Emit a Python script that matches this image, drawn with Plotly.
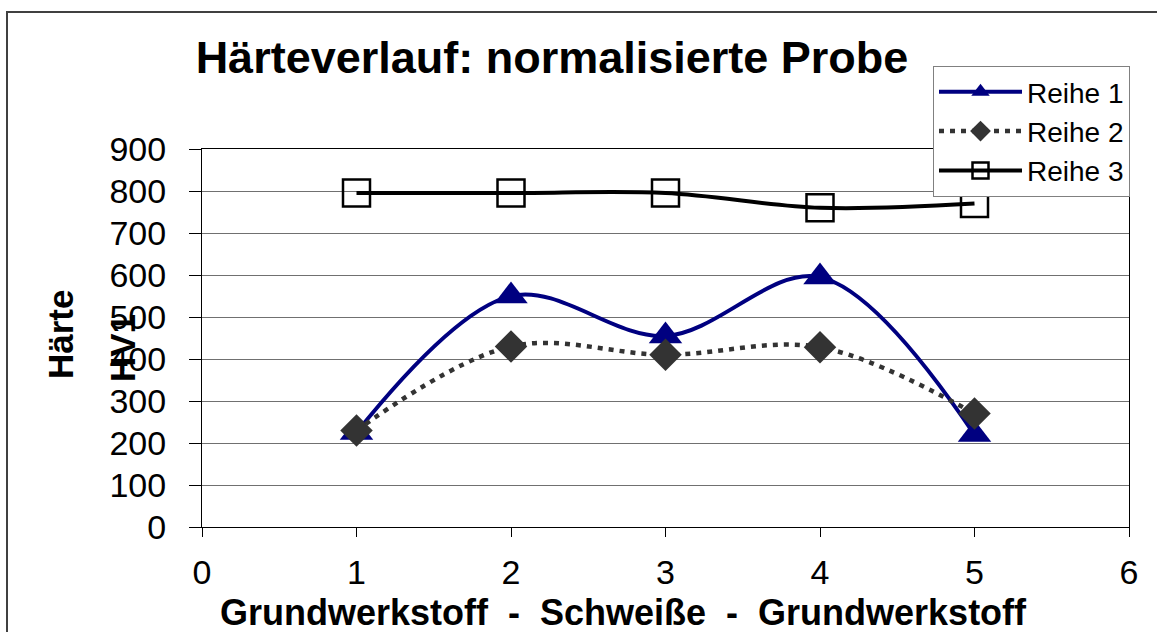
import plotly.graph_objects as go

# Messpunkte entlang der Probe
positions = [1, 2, 3, 4, 5]
reihe_1 = [225, 550, 455, 595, 220]
reihe_2 = [230, 430, 410, 428, 270]
reihe_3 = [795, 795, 795, 760, 770]

x_ticks = [0, 1, 2, 3, 4, 5, 6]
y_ticks = [0, 100, 200, 300, 400, 500, 600, 700, 800, 900]

FONT = "Liberation Sans, Arial, sans-serif"
NBSP = "\u00a0"

# Plot area in pixels (for placing free text)
L, R, T, B = 202, 28, 149, 105
W, H = 1157, 632
PW, PH = W - L - R, H - T - B


def px_x(px):
    return (px - L) / PW


def px_y(py):
    return (H - B - py) / PH


fig = go.Figure()

fig.add_trace(go.Scatter(
    x=positions, y=reihe_1, name="Reihe 1", mode="lines+markers",
    line=dict(color="#000080", width=4, shape="spline", smoothing=1),
    marker=dict(symbol="triangle-up", size=29, color="#000080"),
))
fig.add_trace(go.Scatter(
    x=positions, y=reihe_2, name="Reihe 2", mode="lines+markers",
    line=dict(color="#333333", width=4.5, shape="spline", smoothing=1, dash="5px,6px"),
    marker=dict(symbol="diamond", size=25, color="#333333"),
))
fig.add_trace(go.Scatter(
    x=positions, y=reihe_3, name="Reihe 3", mode="lines+markers",
    line=dict(color="#000000", width=4, shape="spline", smoothing=1),
    marker=dict(symbol="square-open", size=27, color="#000000", line=dict(width=2.5)),
))

axis_common = dict(
    showline=True, linecolor="#000000", linewidth=1, mirror=True,
    ticks="outside", tickcolor="#000000", tickwidth=1,
    tickfont=dict(family=FONT, size=34, color="#000000"),
    zeroline=False,
)

fig.update_layout(
    width=W, height=H,
    margin=dict(l=L, r=R, t=T, b=B),
    paper_bgcolor="#ffffff", plot_bgcolor="#ffffff",
    font=dict(family=FONT, color="#000000"),
    title=dict(
        text="<b>Härteverlauf: normalisierte Probe</b>",
        font=dict(family=FONT, size=45, color="#000000"),
        x=552 / W, xref="container", xanchor="center",
        y=1 - 57 / H, yref="container", yanchor="middle",
    ),
    xaxis=dict(
        range=[0, 6], tickvals=x_ticks, ticktext=[str(v) for v in x_ticks],
        ticklen=9, ticklabelstandoff=6, showgrid=False, **axis_common,
    ),
    yaxis=dict(
        range=[0, 900], tickvals=y_ticks, ticktext=[str(v) for v in y_ticks],
        ticklen=12, ticklabelstandoff=16, showgrid=True, gridcolor="#707070", gridwidth=1,
        **axis_common,
    ),
    legend=dict(
        x=px_x(933), y=px_y(66), xanchor="left", yanchor="top",
        bgcolor="#ffffff", bordercolor="#808080", borderwidth=1,
        font=dict(family=FONT, size=28, color="#000000"),
        tracegroupgap=0, itemwidth=83,
    ),
    showlegend=True,
)

# Axis titles
sep = NBSP * 2 + "-" + NBSP * 2
fig.add_annotation(
    text="<b>Grundwerkstoff" + sep + "Schweiße" + sep + "Grundwerkstoff</b>",
    x=px_x(623), y=px_y(612), xref="paper", yref="paper",
    xanchor="center", yanchor="middle", showarrow=False,
    font=dict(family=FONT, size=36, color="#000000"),
)
fig.add_annotation(
    text="<b>Härte</b>", textangle=-90,
    x=px_x(60), y=px_y(335), xref="paper", yref="paper",
    xanchor="center", yanchor="middle", showarrow=False,
    font=dict(family=FONT, size=35, color="#000000"),
)
fig.add_annotation(
    text="<b>HV1</b>", textangle=-90,
    x=px_x(122), y=px_y(348), xref="paper", yref="paper",
    xanchor="center", yanchor="middle", showarrow=False,
    font=dict(family=FONT, size=35, color="#000000"),
)

# Chart frame
fig.add_shape(
    type="rect", xref="paper", yref="paper",
    x0=px_x(7), y0=px_y(700), x1=px_x(1200), y1=px_y(12),
    line=dict(color="#404040", width=2), fillcolor="rgba(0,0,0,0)", layer="below",
)

fig.write_html("out.html")
